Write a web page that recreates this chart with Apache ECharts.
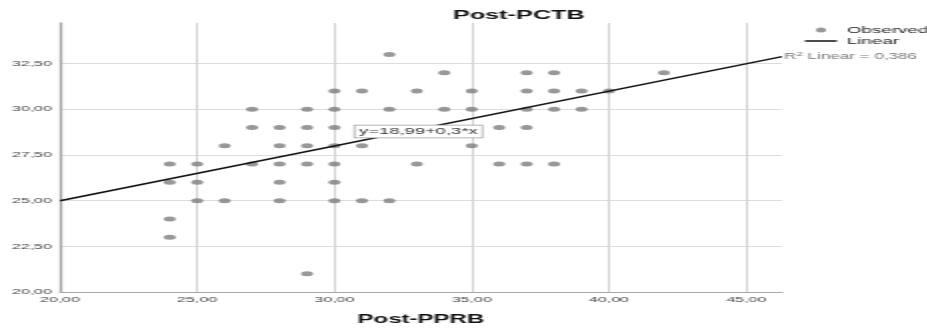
<!DOCTYPE html>
<html><head><meta charset="utf-8">
<script src="https://cdn.jsdelivr.net/npm/echarts@6/dist/echarts.min.js"></script>
<style>
html,body{margin:0;padding:0;background:#fff;overflow:hidden}
#wrap{width:927px;height:331px;overflow:hidden;position:relative}
#chart{width:463.5px;height:331px;transform:scaleX(2);transform-origin:0 0}
</style>
</head><body><div id="wrap"><div id="chart"></div></div>
<script>
// Observed points (Post-PPRB, Post-PCTB)
const obsX = [32, 34,37,38,42, 30,31,33,35,37,38,39,40, 27,29,30,32,34,35,37,38,39,
  27,28,29,30,36,37, 26,28,29,30,31,35, 24,25,27,28,29,30,33,36,37,38,
  24,25,28,30, 25,26,28,30,31,32, 24, 24, 29];
const obsY = [33, 32,32,32,32, 31,31,31,31,31,31,31,31, 30,30,30,30,30,30,30,30,30,
  29,29,29,29,29,29, 28,28,28,28,28,28, 27,27,27,27,27,27,27,27,27,27,
  26,26,26,26, 25,25,25,25,25,25, 24, 23, 21];
// Fitted line endpoints
const fitX = [20, 46.3];
const fitY = [24.99, 32.88];
const xTickLabels = ['20,00','25,00','30,00','35,00','40,00','45,00'];
const yTickLabels = ['20,00','22,50','25,00','27,50','30,00','32,50'];
const titleText = 'Post-PCTB';
const xName = 'Post-PPRB';
const eqText = 'y=18,99+0,3*x';
const r2Text = '0,386';

const FONT = '"Liberation Sans", Arial, sans-serif';
function fmt(v, step){
  const k = (v - 20) / step;
  if (Math.abs(k - Math.round(k)) > 1e-6) return '';
  return v.toFixed(2).replace('.', ',');
}
const chart = echarts.init(document.getElementById('chart'), null, {renderer:'canvas'});
chart.setOption({
  animation: false,
  backgroundColor: '#fff',
  title: { text: titleText, left: 226.5, top: 9, padding: 0,
    textStyle: { fontFamily: FONT, fontSize: 12.6, fontWeight: 'bold', color: '#111' } },
  legend: {
    orient: 'vertical', left: 402.5, top: 24.5, itemGap: 0, padding: 0,
    itemWidth: 16, itemHeight: 5, symbolKeepAspect: true,
    textStyle: { fontFamily: FONT, fontSize: 9.4, lineHeight: 11, color: '#222' },
    data: [{ name: 'Observed', icon: 'circle' },
           { name: 'Linear', icon: 'path://M0,0H32V3H0Z', itemStyle: { color: '#111' } }]
  },
  grid: { left: 30, right: 73, top: 23, bottom: 36 },
  xAxis: {
    type: 'value', min: 20, max: 46.3, interval: 5,
    name: xName, nameLocation: 'middle', nameGap: 22,
    nameTextStyle: { fontFamily: FONT, fontSize: 12, fontWeight: 'bold', color: '#111' },
    axisLine: { show: true, onZero: false, lineStyle: { color: '#a8a8a8', width: 1.2 } },
    axisTick: { show: false },
    axisLabel: { margin: 4, fontFamily: FONT, fontSize: 8, color: '#444', showMaxLabel: false,
      formatter: v => { const i = xTickLabels.indexOf(fmt(v,5)); return i>=0 ? xTickLabels[i] : ''; } },
    splitLine: { show: true, showMaxLine: false, showMinLine: false, lineStyle: { color: '#d2d2d2', width: 1 } }
  },
  yAxis: {
    type: 'value', min: 20, max: 34.72, interval: 2.5,
    axisLine: { show: true, onZero: false, lineStyle: { color: '#a0a0a0', width: 1.3 } },
    axisTick: { show: false },
    axisLabel: { margin: 4, fontFamily: FONT, fontSize: 8, color: '#444', showMaxLabel: false,
      formatter: v => { const i = yTickLabels.indexOf(fmt(v,2.5)); return i>=0 ? yTickLabels[i] : ''; } },
    splitLine: { show: true, showMaxLine: false, showMinLine: false, lineStyle: { color: '#dcdcdc', width: 1 } }
  },
  series: [
    { name: 'Observed', type: 'scatter', symbol: 'circle', symbolSize: [6,5],
      itemStyle: { color: '#7e7e7e' },
      data: obsX.map((x,i) => [x, obsY[i]]) },
    { name: 'Linear', type: 'line', symbol: 'none', showSymbol: false,
      lineStyle: { color: '#111', width: 1.5 }, itemStyle: { color: '#111' },
      data: fitX.map((x,i) => [x, fitY[i]]),
      endLabel: { show: true, distance: 1, fontFamily: FONT, fontSize: 8.5, color: '#777',
        formatter: 'R{s|2} Linear = ' + r2Text,
        rich: { s: { fontSize: 6, verticalAlign: 'top', padding: [0,0,5,0], color: '#777', fontFamily: FONT } } },
      markPoint: {
        symbol: 'rect', symbolSize: 0,
        data: [{ coord: [30.75, 28.78] }],
        label: { show: true, position: 'right', distance: 0, formatter: eqText,
          fontFamily: FONT, fontSize: 9.2, color: '#333', backgroundColor: '#fff',
          borderColor: '#9a9a9a', borderWidth: 0.7, padding: [2,2,1,2] }
      }
    }
  ]
});
</script></body></html>
